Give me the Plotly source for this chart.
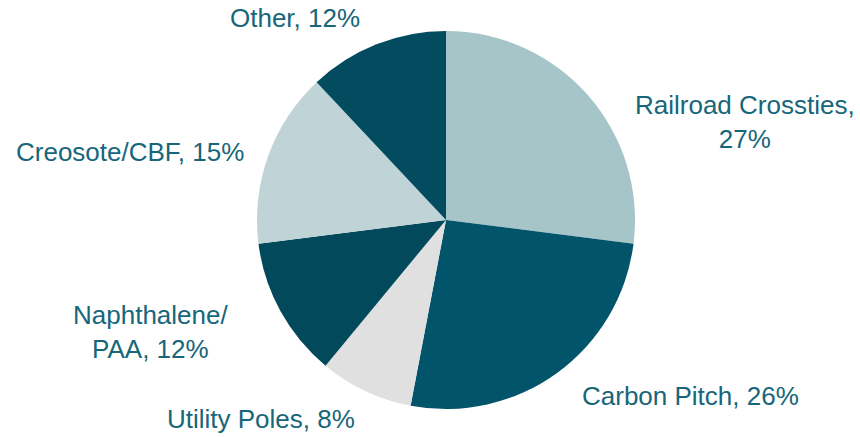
import plotly.graph_objects as go

# Data
categories = ["Railroad Crossties", "Carbon Pitch", "Utility Poles",
              "Naphthalene/PAA", "Creosote/CBF", "Other"]
shares = [27, 26, 8, 12, 15, 12]
label_texts = ["Railroad Crossties,<br>27%", "Carbon Pitch, 26%", "Utility Poles, 8%",
               "Naphthalene/<br>PAA, 12%", "Creosote/CBF, 15%", "Other, 12%"]

colors = ["#A5C5C8", "#02546A", "#E0E0E0", "#03495C", "#C0D3D6", "#034B5F"]
# label anchor positions in pixels (x from left, y from top)
label_px = [(745, 122), (690, 396), (261, 419), (150, 332), (130, 152), (295, 18)]

W, H = 860, 437
cx, cy, r = 446, 220, 189

fig = go.Figure(go.Pie(
    labels=categories,
    values=shares,
    sort=False,
    direction="clockwise",
    rotation=0,
    marker=dict(colors=colors, line=dict(width=0)),
    textinfo="none",
    hole=0,
    showlegend=False,
    domain=dict(x=[(cx - r) / W, (cx + r) / W],
                y=[(H - cy - r) / H, (H - cy + r) / H]),
))

for txt, (px, py) in zip(label_texts, label_px):
    fig.add_annotation(
        x=px / W, y=1 - py / H, xref="paper", yref="paper",
        text=txt, showarrow=False, xanchor="center", yanchor="middle",
        align="center",
        font=dict(family="Liberation Sans, Arial, sans-serif", size=26, color="#17667A"),
    )

fig.update_layout(
    width=W, height=H,
    margin=dict(l=0, r=0, t=0, b=0),
    paper_bgcolor="white",
    plot_bgcolor="white",
)

fig.write_html("out.html")
